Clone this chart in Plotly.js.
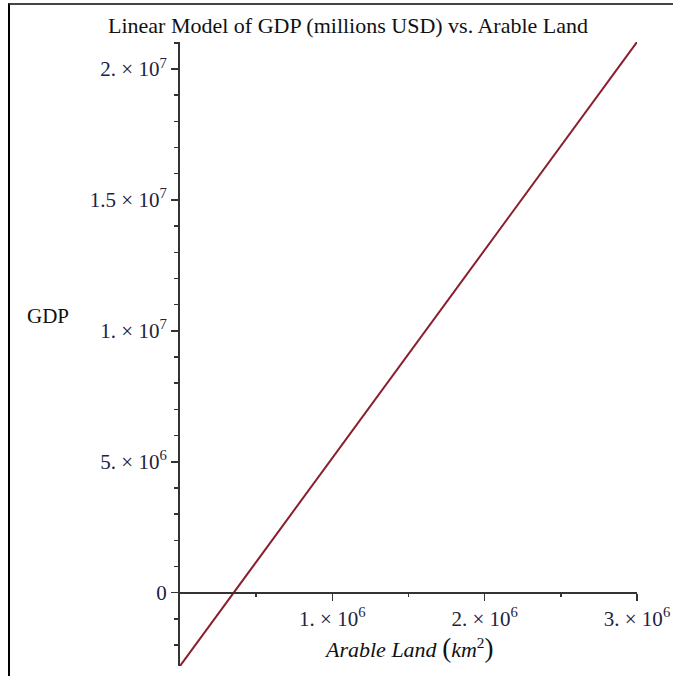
<!DOCTYPE html>
<html>
<head>
<meta charset="utf-8">
<script src="https://cdn.plot.ly/plotly-3.0.1.min.js"></script>
<style>
  html, body { margin: 0; padding: 0; background: #fff; overflow: hidden; width: 673px; height: 676px; }
  #frame { position: absolute; left: 8px; top: 3px; width: 663px; height: 671px;
           border-left: 2px solid #000; border-top: 2px solid #444; }
  #chart { position: absolute; left: 0; top: 0; width: 673px; height: 676px; }
</style>
</head>
<body>
<div id="frame"></div>
<div id="chart"></div>
<script>
// Data (linear model endpoints)
const arableLand = [0, 3000000];
const gdp = [-2800000, 21030000];

// Axis ticks
const xTickVals = [1000000, 2000000, 3000000];
const xTickText = ["1. \u00d7 10<sup>6</sup>", "2. \u00d7 10<sup>6</sup>", "3. \u00d7 10<sup>6</sup>"];
const xMinorVals = [500000, 1500000, 2500000];
const yTickVals = [0, 5000000, 10000000, 15000000, 20000000];
const yTickText = ["0", "5. \u00d7 10<sup>6</sup>", "1. \u00d7 10<sup>7</sup>", "1.5 \u00d7 10<sup>7</sup>", "2. \u00d7 10<sup>7</sup>"];
const yMinorVals = [-2000000, -1000000, 1000000, 2000000, 3000000, 4000000, 6000000, 7000000, 8000000, 9000000,
  11000000, 12000000, 13000000, 14000000, 16000000, 17000000, 18000000, 19000000, 21000000];

const xRange = [0, 3000000];
const yRange = [-2800000, 21030000];

const serif = "Liberation Serif, Times New Roman, serif";
const tickColor = "#1d2340";
const axisColor = "#333";

const trace = {
  x: arableLand, y: gdp, type: "scatter", mode: "lines",
  line: { color: "#8b1e2e", width: 2 }, hoverinfo: "skip"
};

const xPos = (0 - yRange[0]) / (yRange[1] - yRange[0]);

const layout = {
  width: 673, height: 676,
  margin: { l: 180, r: 36, t: 42, b: 10 },
  paper_bgcolor: "rgba(0,0,0,0)", plot_bgcolor: "rgba(0,0,0,0)",
  showlegend: false,
  title: {
    text: "Linear Model of GDP (millions USD) vs. Arable Land",
    font: { family: serif, size: 22, color: "#111" },
    x: 348 / 673, xanchor: "center", xref: "container",
    y: 1 - 25 / 676, yanchor: "middle", yref: "container"
  },
  xaxis: {
    range: xRange, anchor: "free", position: xPos,
    showgrid: false, zeroline: false,
    showline: true, linecolor: axisColor, linewidth: 2,
    tickmode: "array", tickvals: xTickVals, ticktext: xTickText,
    ticks: "outside", ticklen: 7, tickwidth: 1.5, tickcolor: axisColor,
    tickfont: { family: serif, size: 21, color: tickColor },
    minor: { tickmode: "array", tickvals: xMinorVals, ticks: "outside", ticklen: 3, tickwidth: 1.5, tickcolor: axisColor, showgrid: false }
  },
  yaxis: {
    range: yRange,
    showgrid: false, zeroline: false,
    showline: true, linecolor: axisColor, linewidth: 2,
    tickmode: "array", tickvals: yTickVals, ticktext: yTickText,
    ticks: "outside", ticklen: 7, tickwidth: 1.5, tickcolor: axisColor,
    tickfont: { family: serif, size: 21, color: tickColor },
    minor: { tickmode: "array", tickvals: yMinorVals, ticks: "outside", ticklen: 4, tickwidth: 1.5, tickcolor: axisColor, showgrid: false }
  },
  annotations: [
    { text: "<i>Arable Land</i> <span style=\"font-size:27px\">(</span><i>km</i><sup>2</sup><span style=\"font-size:27px\">)</span>", xref: "paper", yref: "paper",
      x: 0.5, y: (666 - 648) / 624.3, xanchor: "center", yanchor: "middle", showarrow: false,
      font: { family: serif, size: 22, color: "#111" } },
    { text: "GDP", xref: "paper", yref: "paper",
      x: (48 - 180) / 457, y: (666 - 316) / 624.3, xanchor: "center", yanchor: "middle", showarrow: false,
      font: { family: serif, size: 21, color: "#111" } }
  ]
};

Plotly.newPlot("chart", [trace], layout, { displayModeBar: false, staticPlot: true });
</script>
</body>
</html>
